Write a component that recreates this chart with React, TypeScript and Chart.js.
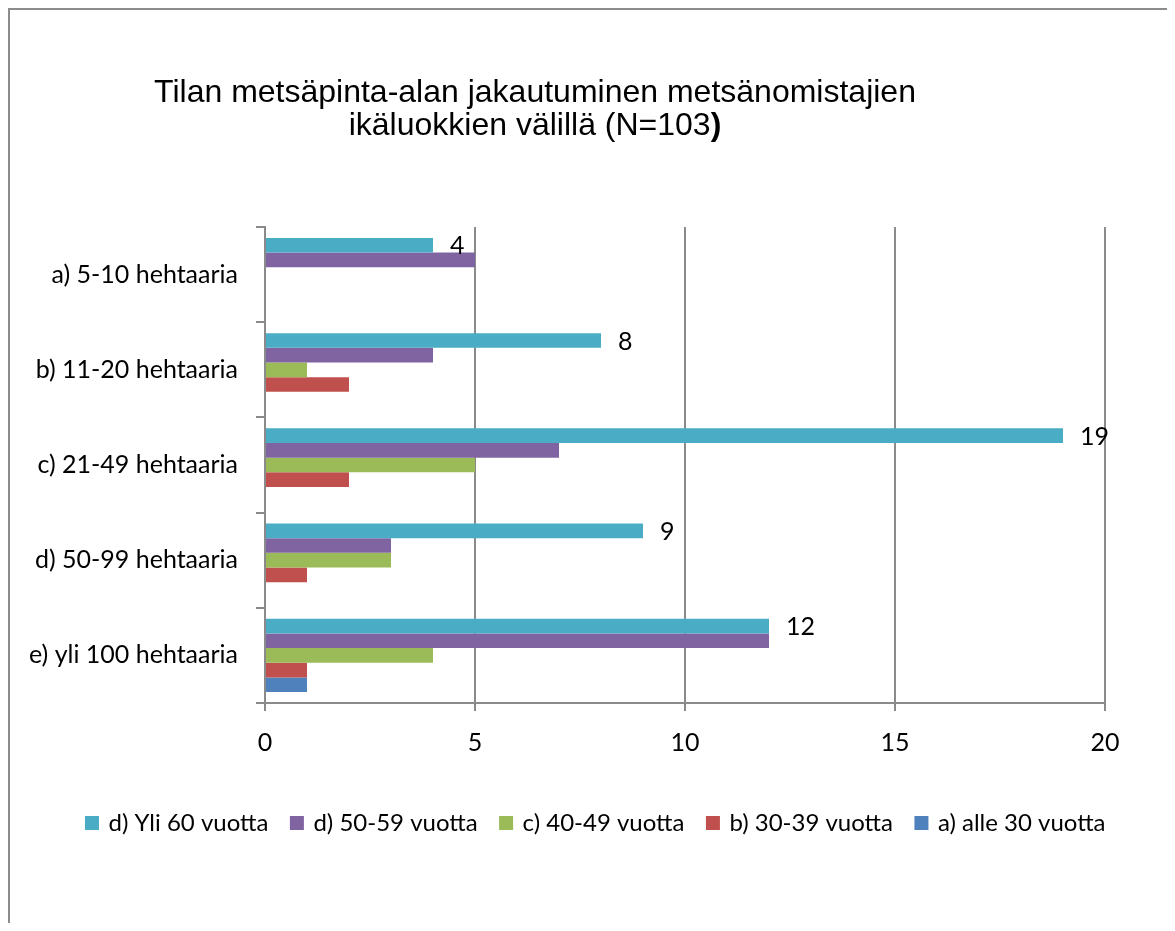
import React, { useEffect, useRef } from "react";
import { Chart, registerables } from "chart.js";

Chart.register(...registerables);

const categories = [
  "a) 5-10 hehtaaria",
  "b) 11-20 hehtaaria",
  "c) 21-49 hehtaaria",
  "d) 50-99 hehtaaria",
  "e) yli 100 hehtaaria",
];
const seriesNames = [
  "d) Yli 60 vuotta",
  "d) 50-59 vuotta",
  "c) 40-49 vuotta",
  "b) 30-39 vuotta",
  "a) alle 30 vuotta",
];
const yli60 = [4, 8, 19, 9, 12];
const v50to59 = [5, 4, 7, 3, 12];
const v40to49 = [0, 1, 5, 3, 4];
const v30to39 = [0, 2, 2, 1, 1];
const alle30 = [0, 0, 0, 0, 1];
const xTickValues = [0, 5, 10, 15, 20];
const titleLine1 = "Tilan metsäpinta-alan jakautuminen metsänomistajien";
const titleLine2 = "ikäluokkien välillä (N=103";
const titleLine2Bold = ")";

const seriesColors = ["#4BACC6", "#8064A2", "#9BBB59", "#C0504D", "#4F81BD"];

const W = 1166;
const H = 915;
const FONT = "Lato";
const FS_AXIS = 25;
const FS_LEGEND = 24;
const GRID = "#8a8a8a";
const LEGEND_SHIFT = 40;

const framePlugin = {
  id: "frame",
  beforeDraw(chart: any) {
    const ctx = chart.ctx;
    ctx.save();
    ctx.fillStyle = "#fff";
    ctx.fillRect(0, 0, chart.width, chart.height);
    ctx.strokeStyle = "#8c8c8c";
    ctx.lineWidth = 2;
    ctx.beginPath();
    ctx.moveTo(1, chart.height + 5);
    ctx.lineTo(1, 1);
    ctx.lineTo(chart.width - 1, 1);
    ctx.lineTo(chart.width - 1, chart.height + 5);
    ctx.stroke();
    ctx.restore();
  },
};

const legendShiftPlugin = {
  id: "legendShift",
  afterLayout(chart: any) {
    const lg = chart.legend;
    if (lg) {
      lg.left += LEGEND_SHIFT;
      lg.right += LEGEND_SHIFT;
    }
  },
};

const titlePlugin = {
  id: "customTitle",
  afterDraw(chart: any) {
    const ctx = chart.ctx;
    ctx.save();
    ctx.fillStyle = "#000";
    ctx.textBaseline = "alphabetic";
    const cx = 527;
    ctx.font = `32px "Liberation Sans", Arial, sans-serif`;
    ctx.textAlign = "center";
    ctx.fillText(titleLine1, cx, 93.5);
    ctx.textAlign = "left";
    const w1 = ctx.measureText(titleLine2).width;
    ctx.font = `bold 32px "Liberation Sans", Arial, sans-serif`;
    const w2 = ctx.measureText(titleLine2Bold).width;
    const start = cx - (w1 + w2) / 2;
    ctx.font = `32px "Liberation Sans", Arial, sans-serif`;
    ctx.fillText(titleLine2, start, 127);
    ctx.font = `bold 32px "Liberation Sans", Arial, sans-serif`;
    ctx.fillText(titleLine2Bold, start + w1, 127);
    ctx.restore();
  },
};

const valueLabelPlugin = {
  id: "valueLabels",
  afterDatasetsDraw(chart: any) {
    const ctx = chart.ctx;
    const meta = chart.getDatasetMeta(0);
    ctx.save();
    ctx.font = `${FS_AXIS}px ${FONT}`;
    ctx.fillStyle = "#000";
    ctx.textAlign = "left";
    ctx.textBaseline = "middle";
    meta.data.forEach((el: any, i: number) => {
      ctx.fillText(String(yli60[i]), el.x + 17, el.y + 1);
    });
    ctx.restore();
  },
};

export default function App() {
  const ref = useRef<HTMLCanvasElement | null>(null);

  useEffect(() => {
    if (!ref.current) return;
    const seriesData = [yli60, v50to59, v40to49, v30to39, alle30];
    const chart = new Chart(ref.current, {
      type: "bar",
      data: {
        labels: categories,
        datasets: seriesNames.map((name, i) => ({
          label: name,
          data: seriesData[i],
          backgroundColor: seriesColors[i],
          borderWidth: 0,
          categoryPercentage: 0.77,
          barPercentage: 1,
        })),
      },
      options: {
        indexAxis: "y",
        responsive: false,
        animation: false,
        layout: { padding: { top: 219, left: 0, right: 69, bottom: 78 } },
        plugins: {
          title: { display: false },
          tooltip: { enabled: false },
          legend: {
            position: "bottom",
            labels: {
              boxWidth: 9,
              boxHeight: 9,
              padding: 24,
              color: "#000",
              font: { family: FONT, size: FS_LEGEND },
              generateLabels: (chart: any) => {
                const items = Chart.defaults.plugins.legend.labels.generateLabels(chart);
                return items.map((it: any) => ({
                  ...it,
                  lineWidth: 5,
                  strokeStyle: it.fillStyle,
                  lineJoin: "miter",
                }));
              },
            },
          },
        },
        scales: {
          x: {
            min: 0,
            max: 20,
            afterBuildTicks: (scale: any) => {
              scale.ticks = xTickValues.map((v) => ({ value: v }));
            },
            afterFit: (scale: any) => {
              scale.height = 84;
            },
            grid: {
              color: GRID,
              lineWidth: 2,
              tickLength: 8,
              drawTicks: true,
            },
            border: { color: GRID, width: 2 },
            ticks: {
              color: "#000",
              padding: 17,
              font: { family: FONT, size: FS_AXIS },
            },
          },
          y: {
            afterFit: (scale: any) => {
              scale.width = 257;
            },
            grid: {
              drawOnChartArea: false,
              color: GRID,
              lineWidth: 2,
              tickLength: 9,
              offset: true,
            },
            border: { color: GRID, width: 2 },
            ticks: {
              color: "#000",
              padding: 18,
              font: { family: FONT, size: FS_AXIS },
            },
          },
        },
      },
      plugins: [framePlugin, legendShiftPlugin, titlePlugin, valueLabelPlugin],
    });
    return () => chart.destroy();
  }, []);

  return (
    <div style={{ width: W, height: H }}>
      <canvas ref={ref} width={W} height={H} style={{ width: W, height: H, display: "block" }} />
    </div>
  );
}
